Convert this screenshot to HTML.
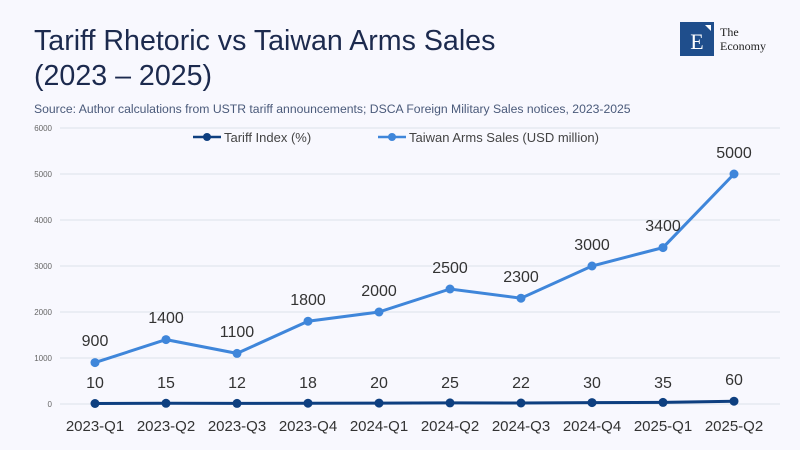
<!DOCTYPE html>
<html><head><meta charset="utf-8"><style>
body{margin:0;background:#f8f8fe;}
svg{display:block;font-family:"Liberation Sans",sans-serif;}
</style></head><body>
<svg width="800" height="450" viewBox="0 0 800 450">
<rect width="800" height="450" fill="#f8f8fe"/>
<text x="34" y="50" font-size="28.6" fill="#1c2a4e">Tariff Rhetoric vs Taiwan Arms Sales</text>
<text x="34" y="85" font-size="28.6" fill="#1c2a4e">(2023 – 2025)</text>
<text x="34" y="113" font-size="12.2" fill="#4a5a7a">Source:  Author calculations from USTR tariff announcements; DSCA Foreign Military Sales notices, 2023-2025</text>
<rect x="680" y="22" width="34" height="34" fill="#1f4e8c"/>
<text x="697" y="49" font-size="22" fill="#fff" text-anchor="middle" font-family="Liberation Serif,serif">E</text>
<polygon points="705,25 711,25 711,31" fill="#fff"/>
<text x="720" y="36" font-size="12" fill="#222" font-family="Liberation Serif,serif">The</text>
<text x="720" y="50" font-size="12" fill="#222" font-family="Liberation Serif,serif">Economy</text>
<g stroke="#dde2ea" stroke-width="1">
<line x1="60" y1="128" x2="780" y2="128"/><line x1="60" y1="174" x2="780" y2="174"/><line x1="60" y1="220" x2="780" y2="220"/><line x1="60" y1="266" x2="780" y2="266"/><line x1="60" y1="312" x2="780" y2="312"/><line x1="60" y1="358" x2="780" y2="358"/><line x1="60" y1="404" x2="780" y2="404"/>
</g>
<g font-size="8" fill="#666" text-anchor="end">
<text x="52" y="131">6000</text><text x="52" y="177">5000</text><text x="52" y="223">4000</text><text x="52" y="269">3000</text><text x="52" y="315">2000</text><text x="52" y="361">1000</text><text x="52" y="407">0</text>
</g>
<g stroke="#0e3f80" stroke-width="2.5"><line x1="193" y1="137" x2="221" y2="137"/></g>
<circle cx="207" cy="137" r="4" fill="#0e3f80"/>
<text x="224" y="142" font-size="13" fill="#444">Tariff Index (%)</text>
<line x1="378" y1="137" x2="406" y2="137" stroke="#3f86da" stroke-width="2.5"/>
<circle cx="392" cy="137" r="4" fill="#3f86da"/>
<text x="409" y="142" font-size="13" fill="#444">Taiwan Arms Sales (USD million)</text>
<polyline fill="none" stroke="#0e3f80" stroke-width="3" points="95,403.5 166,403.3 237,403.4 308,403.2 379,403.1 450,402.9 521,403 592,402.6 663,402.4 734,401.2"/>
<g fill="#0e3f80">
<circle cx="95" cy="403.5" r="4.5"/><circle cx="166" cy="403.3" r="4.5"/><circle cx="237" cy="403.4" r="4.5"/><circle cx="308" cy="403.2" r="4.5"/><circle cx="379" cy="403.1" r="4.5"/><circle cx="450" cy="402.9" r="4.5"/><circle cx="521" cy="403" r="4.5"/><circle cx="592" cy="402.6" r="4.5"/><circle cx="663" cy="402.4" r="4.5"/><circle cx="734" cy="401.2" r="4.5"/>
</g>
<polyline fill="none" stroke="#3f86da" stroke-width="3" points="95,362.6 166,339.6 237,353.4 308,321.2 379,312 450,289 521,298.2 592,266 663,247.6 734,174"/>
<g fill="#3f86da">
<circle cx="95" cy="362.6" r="4.5"/><circle cx="166" cy="339.6" r="4.5"/><circle cx="237" cy="353.4" r="4.5"/><circle cx="308" cy="321.2" r="4.5"/><circle cx="379" cy="312" r="4.5"/><circle cx="450" cy="289" r="4.5"/><circle cx="521" cy="298.2" r="4.5"/><circle cx="592" cy="266" r="4.5"/><circle cx="663" cy="247.6" r="4.5"/><circle cx="734" cy="174" r="4.5"/>
</g>
<g font-size="16" fill="#333" text-anchor="middle">
<text x="95" y="346">900</text><text x="166" y="323">1400</text><text x="237" y="337">1100</text><text x="308" y="305">1800</text><text x="379" y="296">2000</text><text x="450" y="273">2500</text><text x="521" y="282">2300</text><text x="592" y="250">3000</text><text x="663" y="231">3400</text><text x="734" y="158">5000</text>
<text x="95" y="388">10</text><text x="166" y="388">15</text><text x="237" y="388">12</text><text x="308" y="388">18</text><text x="379" y="388">20</text><text x="450" y="388">25</text><text x="521" y="388">22</text><text x="592" y="388">30</text><text x="663" y="388">35</text><text x="734" y="385">60</text>
</g>
<g font-size="15" fill="#333" text-anchor="middle">
<text x="95" y="431">2023-Q1</text><text x="166" y="431">2023-Q2</text><text x="237" y="431">2023-Q3</text><text x="308" y="431">2023-Q4</text><text x="379" y="431">2024-Q1</text><text x="450" y="431">2024-Q2</text><text x="521" y="431">2024-Q3</text><text x="592" y="431">2024-Q4</text><text x="663" y="431">2025-Q1</text><text x="734" y="431">2025-Q2</text>
</g>
</svg>
</body></html>
